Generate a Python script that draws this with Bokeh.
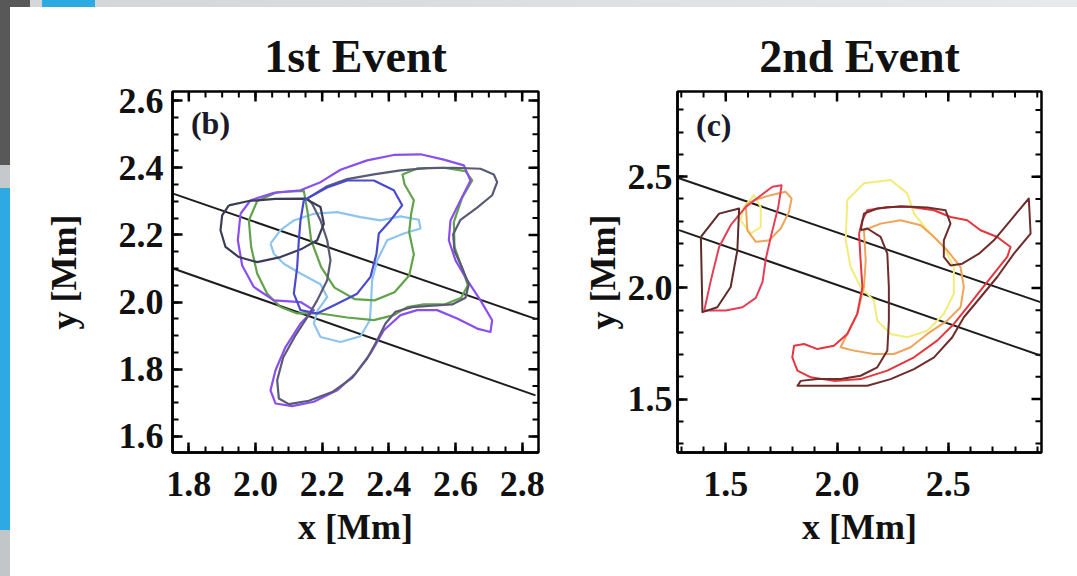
import math
from bokeh.plotting import figure
from bokeh.layouts import row
from bokeh.models import SingleIntervalTicker, PrintfTickFormatter, Range1d
from bokeh.embed import file_html
from bokeh.resources import INLINE
from bokeh.core.properties import value

SERIF = "Liberation Serif"

# ---------------- data: panel (b) 1st event ----------------
b_titles = "1st Event"
b_x_range = (1.751, 2.849)
b_y_range = (1.552, 2.627)
b_major_step = 0.2
b_minor_step = 0.05

b_line1_x = [1.755, 2.840]
b_line1_y = [2.322, 1.950]
b_line2_x = [1.755, 2.840]
b_line2_y = [2.099, 1.722]

b_purple_x = [1.955, 1.985, 2.055, 2.135, 2.195, 2.255, 2.335, 2.415, 2.495, 2.565, 2.625, 2.645, 2.615, 2.585,
              2.580, 2.600, 2.635, 2.675, 2.710, 2.705, 2.665, 2.605, 2.545, 2.485, 2.435, 2.385, 2.345, 2.300,
              2.245, 2.175, 2.110, 2.060, 2.045, 2.060, 2.090, 2.135, 2.175, 2.135, 2.055, 1.995, 1.960, 1.947]
b_purple_y = [2.263, 2.303, 2.325, 2.333, 2.357, 2.394, 2.422, 2.438, 2.440, 2.424, 2.407, 2.362, 2.303, 2.243,
              2.184, 2.124, 2.065, 2.005, 1.946, 1.911, 1.921, 1.951, 1.976, 1.976, 1.961, 1.916, 1.847, 1.787,
              1.737, 1.703, 1.690, 1.698, 1.737, 1.797, 1.866, 1.936, 1.976, 2.000, 2.005, 2.045, 2.109, 2.184]

b_slate_x = [2.155, 2.215, 2.275, 2.355, 2.435, 2.515, 2.595, 2.675, 2.715, 2.725, 2.710, 2.665, 2.615, 2.593,
             2.597, 2.620, 2.640, 2.630, 2.590, 2.530, 2.470, 2.420, 2.390, 2.365, 2.335, 2.290, 2.230, 2.160,
             2.100, 2.070, 2.065, 2.083, 2.120, 2.155, 2.185, 2.215, 2.225, 2.215, 2.195, 2.170]
b_slate_y = [2.308, 2.345, 2.366, 2.380, 2.392, 2.399, 2.400, 2.397, 2.380, 2.357, 2.318, 2.281, 2.245, 2.202,
             2.152, 2.102, 2.053, 2.013, 1.993, 1.989, 1.985, 1.971, 1.936, 1.886, 1.832, 1.774, 1.732, 1.706,
             1.696, 1.713, 1.767, 1.835, 1.901, 1.954, 2.005, 2.065, 2.124, 2.184, 2.243, 2.293]

b_dark_x = [1.920, 1.980, 2.060, 2.150, 2.195, 2.205, 2.185, 2.140, 2.075, 2.005, 1.950, 1.910, 1.895, 1.900]
b_dark_y = [2.288, 2.301, 2.307, 2.308, 2.283, 2.233, 2.184, 2.159, 2.134, 2.119, 2.134, 2.164, 2.214, 2.258]

b_green_x = [1.980, 2.005, 2.065, 2.145, 2.157, 2.167, 2.197, 2.237, 2.297, 2.357, 2.417, 2.461, 2.475, 2.461,
             2.467, 2.475, 2.447, 2.441, 2.485, 2.565, 2.630, 2.650, 2.620, 2.595, 2.597, 2.620, 2.637, 2.617,
             2.567, 2.505, 2.455, 2.415, 2.355, 2.275, 2.195, 2.125, 2.075, 2.035, 2.005, 1.987]
b_green_y = [2.243, 2.301, 2.327, 2.331, 2.263, 2.184, 2.104, 2.043, 2.009, 2.005, 2.029, 2.079, 2.142, 2.208,
             2.263, 2.303, 2.351, 2.380, 2.398, 2.400, 2.390, 2.362, 2.311, 2.238, 2.164, 2.100, 2.050, 2.013,
             1.993, 1.993, 1.985, 1.961, 1.946, 1.954, 1.966, 1.966, 1.985, 2.025, 2.085, 2.164]

b_lightblue_x = [2.045, 2.075, 2.115, 2.175, 2.245, 2.315, 2.375, 2.435, 2.490, 2.495, 2.445, 2.395, 2.365,
                 2.350, 2.347, 2.343, 2.315, 2.255, 2.195, 2.175, 2.187, 2.215, 2.195, 2.135, 2.085, 2.055]
b_lightblue_y = [2.174, 2.214, 2.243, 2.263, 2.268, 2.253, 2.243, 2.255, 2.245, 2.219, 2.204, 2.184, 2.124,
                 2.065, 2.005, 1.946, 1.898, 1.881, 1.896, 1.936, 1.976, 2.015, 2.053, 2.085, 2.114, 2.144]

b_blue_x = [2.145, 2.215, 2.275, 2.355, 2.415, 2.440, 2.405, 2.370, 2.363, 2.345, 2.305, 2.245, 2.185, 2.135,
            2.115, 2.125, 2.130, 2.135]
b_blue_y = [2.303, 2.341, 2.362, 2.362, 2.333, 2.288, 2.243, 2.204, 2.144, 2.075, 2.025, 1.995, 1.966, 1.976,
            2.025, 2.104, 2.184, 2.243]

b_label = "(b)"
b_label_xy = (1.865, 2.532)

# ---------------- data: panel (c) 2nd event ----------------
c_title = "2nd Event"
c_x_range = (1.283, 2.919)
c_y_range = (1.260, 2.883)
c_major_step = 0.5
c_minor_step = 0.1

c_line1_x = [1.290, 2.914]
c_line1_y = [2.493, 1.936]
c_line2_x = [1.290, 2.914]
c_line2_y = [2.260, 1.696]

c_maroon_x = [2.106, 2.121, 2.181, 2.286, 2.406, 2.488, 2.510, 2.480, 2.480, 2.510, 2.563, 2.638, 2.705, 2.780,
              2.862, 2.870, 2.795, 2.720, 2.645, 2.570, 2.518, 2.436, 2.346, 2.241, 2.136, 2.016, 1.912, 1.822,
              1.837, 1.912, 2.016, 2.106, 2.181, 2.226, 2.233, 2.233, 2.226, 2.196, 2.136]
c_maroon_y = [2.259, 2.334, 2.357, 2.367, 2.361, 2.349, 2.289, 2.214, 2.139, 2.101, 2.109, 2.154, 2.214, 2.304,
              2.402, 2.244, 2.154, 2.049, 1.958, 1.868, 1.778, 1.688, 1.635, 1.590, 1.560, 1.560, 1.560, 1.560,
              1.582, 1.590, 1.590, 1.605, 1.643, 1.718, 1.853, 2.004, 2.154, 2.229, 2.267]

c_red_x = [2.099, 2.106, 2.114, 2.091, 2.046, 1.986, 1.912, 1.852, 1.807, 1.799, 1.822, 1.882, 1.986, 2.106,
           2.226, 2.346, 2.450, 2.525, 2.585, 2.645, 2.705, 2.765, 2.780, 2.720, 2.645, 2.585, 2.510, 2.436,
           2.331, 2.226, 2.136, 2.114]
c_red_y = [2.244, 2.124, 2.004, 1.883, 1.793, 1.740, 1.725, 1.748, 1.740, 1.688, 1.628, 1.598, 1.582, 1.590,
           1.628, 1.688, 1.763, 1.838, 1.913, 1.989, 2.064, 2.139, 2.184, 2.229, 2.259, 2.304, 2.319, 2.349,
           2.364, 2.364, 2.349, 2.304]

c_orange_x = [2.121, 2.196, 2.286, 2.376, 2.436, 2.495, 2.555, 2.570, 2.555, 2.495, 2.406, 2.331, 2.256, 2.166,
              2.076, 2.016, 2.046, 2.091, 2.121, 2.129]
c_orange_y = [2.259, 2.289, 2.304, 2.282, 2.229, 2.169, 2.094, 2.004, 1.913, 1.853, 1.793, 1.733, 1.703, 1.703,
              1.718, 1.733, 1.793, 1.883, 2.004, 2.124]

c_yellow_x = [2.046, 2.121, 2.241, 2.316, 2.346, 2.406, 2.480, 2.525, 2.525, 2.480, 2.406, 2.316, 2.241, 2.181,
              2.166, 2.106, 2.061, 2.039]
c_yellow_y = [2.395, 2.470, 2.485, 2.425, 2.334, 2.259, 2.184, 2.094, 1.974, 1.883, 1.808, 1.778, 1.793, 1.853,
              1.943, 2.004, 2.094, 2.214]

c_left_dark_x = [1.388, 1.470, 1.560, 1.552, 1.522, 1.462, 1.395]
c_left_dark_y = [2.229, 2.334, 2.357, 2.169, 2.004, 1.913, 1.891]

c_left_red_x = [1.403, 1.433, 1.470, 1.522, 1.590, 1.650, 1.710, 1.751, 1.736, 1.706, 1.680, 1.665, 1.635,
                1.575, 1.500]
c_left_red_y = [1.898, 2.034, 2.184, 2.282, 2.364, 2.410, 2.455, 2.462, 2.364, 2.244, 2.131, 2.026, 1.955,
                1.913, 1.898]

c_left_orange_x = [1.590, 1.597, 1.635, 1.695, 1.747, 1.784, 1.796, 1.769, 1.702, 1.627]
c_left_orange_y = [2.372, 2.259, 2.207, 2.214, 2.267, 2.342, 2.402, 2.432, 2.417, 2.395]

c_left_yellow_x = [1.567, 1.582, 1.627, 1.657, 1.657, 1.612]
c_left_yellow_y = [2.304, 2.364, 2.417, 2.364, 2.274, 2.244]

c_label = "(c)"
c_label_xy = (1.446, 2.733)

x_label = "x [Mm]"
y_label = "y [Mm]"

MAJOR_LEN = 10
MINOR_LEN = 6


def closed(xs, ys):
    return list(xs) + [xs[0]], list(ys) + [ys[0]]


def tick_values(lo, hi, step):
    k0 = math.ceil(lo / step - 1e-9)
    k1 = math.floor(hi / step + 1e-9)
    return [round(k * step, 6) for k in range(k0, k1 + 1)]


def style_axis(ax, ticker, standoff, label_standoff):
    ax.ticker = ticker
    ax.major_tick_in = MAJOR_LEN
    ax.major_tick_out = 0
    ax.minor_tick_in = MINOR_LEN
    ax.minor_tick_out = 0
    ax.major_tick_line_width = 2.5
    ax.minor_tick_line_width = 2
    ax.major_tick_line_color = "black"
    ax.minor_tick_line_color = "black"
    ax.axis_line_width = 2.5
    ax.axis_line_color = "black"
    ax.formatter = PrintfTickFormatter(format="%.1f")
    ax.major_label_text_font = SERIF
    ax.major_label_text_font_style = "bold"
    ax.major_label_text_font_size = "36px"
    ax.major_label_text_color = "#111111"
    ax.major_label_standoff = standoff
    ax.axis_label_text_font = SERIF
    ax.axis_label_text_font_style = "bold"
    ax.axis_label_text_font_size = "36px"
    ax.axis_label_text_color = "#111111"
    ax.axis_label_standoff = label_standoff


def add_mirror_ticks(p, xr, yr, major, minor):
    # inward tick marks on the top and right frame edges (outer half of each dash is clipped)
    for step, length, lw in ((minor, MINOR_LEN, 2), (major, MAJOR_LEN, 2.5)):
        xt = tick_values(xr[0], xr[1], step)
        yt = tick_values(yr[0], yr[1], step)
        p.scatter(xt, [yr[1]] * len(xt), marker="dash", angle=math.pi / 2, size=2 * length,
                  line_color="black", line_width=lw)
        p.scatter([xr[1]] * len(yt), yt, marker="dash", angle=0, size=2 * length,
                  line_color="black", line_width=lw)


def make_panel(width, left, right, xr, yr, step, nminor, title, ylab_standoff, ytick_standoff):
    p = figure(width=width, height=576, x_range=Range1d(*xr), y_range=Range1d(*yr),
               output_backend="svg", toolbar_location=None, tools="",
               min_border_left=left, min_border_right=right,
               min_border_top=91, min_border_bottom=124)
    p.border_fill_color = None
    p.background_fill_color = "white"
    p.outline_line_color = "black"
    p.outline_line_width = 2.5
    p.grid.visible = False
    p.title.text = title
    p.title.align = "center"
    p.title.text_font = SERIF
    p.title.text_font_style = "bold"
    p.title.text_font_size = "46px"
    p.title.text_color = "#111111"
    p.title.standoff = 20

    style_axis(p.xaxis[0], SingleIntervalTicker(interval=step, num_minor_ticks=nminor), 19, 8)
    p.xaxis[0].axis_label = x_label
    style_axis(p.yaxis[0], SingleIntervalTicker(interval=step, num_minor_ticks=nminor),
               ytick_standoff, ylab_standoff)
    p.yaxis[0].axis_label = y_label
    return p


W1 = 570
p1 = make_panel(W1, 172, W1 - 538, b_x_range, b_y_range, b_major_step, 4, b_titles, 32, 9)
p2 = make_panel(1077 - W1, 677 - W1, 1077 - 1041, c_x_range, c_y_range, c_major_step, 5, c_title, 2, 5)

add_mirror_ticks(p1, b_x_range, b_y_range, b_major_step, b_minor_step)
add_mirror_ticks(p2, c_x_range, c_y_range, c_major_step, c_minor_step)

# straight guide lines
for p, lines in ((p1, [(b_line1_x, b_line1_y), (b_line2_x, b_line2_y)]),
                 (p2, [(c_line1_x, c_line1_y), (c_line2_x, c_line2_y)])):
    for lx, ly in lines:
        p.line(lx, ly, line_color="#1c1c1c", line_width=2)

b_loops = [
    (b_lightblue_x, b_lightblue_y, "#8ec4f0"),
    (b_green_x, b_green_y, "#62a24a"),
    (b_purple_x, b_purple_y, "#8a4ff0"),
    (b_slate_x, b_slate_y, "#5a5a76"),
    (b_dark_x, b_dark_y, "#3c3c58"),
    (b_blue_x, b_blue_y, "#4a4ad0"),
]
for xs, ys, col in b_loops:
    cx, cy = closed(xs, ys)
    p1.line(cx, cy, line_color=col, line_width=2.2, line_join="round")

c_loops = [
    (c_yellow_x, c_yellow_y, "#f2ec7a"),
    (c_left_yellow_x, c_left_yellow_y, "#f2ec7a"),
    (c_orange_x, c_orange_y, "#f0a45a"),
    (c_left_orange_x, c_left_orange_y, "#f0a45a"),
    (c_red_x, c_red_y, "#e4363c"),
    (c_left_red_x, c_left_red_y, "#e63e56"),
    (c_maroon_x, c_maroon_y, "#6e2c2c"),
    (c_left_dark_x, c_left_dark_y, "#5e2a2a"),
]
for xs, ys, col in c_loops:
    cx, cy = closed(xs, ys)
    p2.line(cx, cy, line_color=col, line_width=2, line_join="round")

for p, lab, (lx, ly) in ((p1, b_label, b_label_xy), (p2, c_label, c_label_xy)):
    p.text(x=[lx], y=[ly], text=[lab], text_font=value(SERIF), text_font_style="bold",
           text_font_size="32px", text_align="center", text_baseline="middle", text_color="#1a1a2a")

bg = ("linear-gradient(#ffffff,#ffffff) 10px 7px / calc(100% - 10px) calc(100% - 7px) no-repeat, "
      "linear-gradient(90deg, #585858 0px, #585858 30px, #d4d6d8 30px, #d4d6d8 42px, "
      "#2eaae3 42px, #2eaae3 95px, #d4d6d8 95px, #e8e9ea 100%) 0 0 / 100% 7px no-repeat, "
      "linear-gradient(180deg, #585858 0px, #585858 165px, #c6c9cb 165px, #c6c9cb 188px, "
      "#2eaae3 188px, #2eaae3 530px, #c3c6c8 530px) 0 0 / 10px 100% no-repeat, "
      "#ffffff")
layout = row(p1, p2, styles={"background": bg})

open("out.html", "w").write(file_html(layout, INLINE))
